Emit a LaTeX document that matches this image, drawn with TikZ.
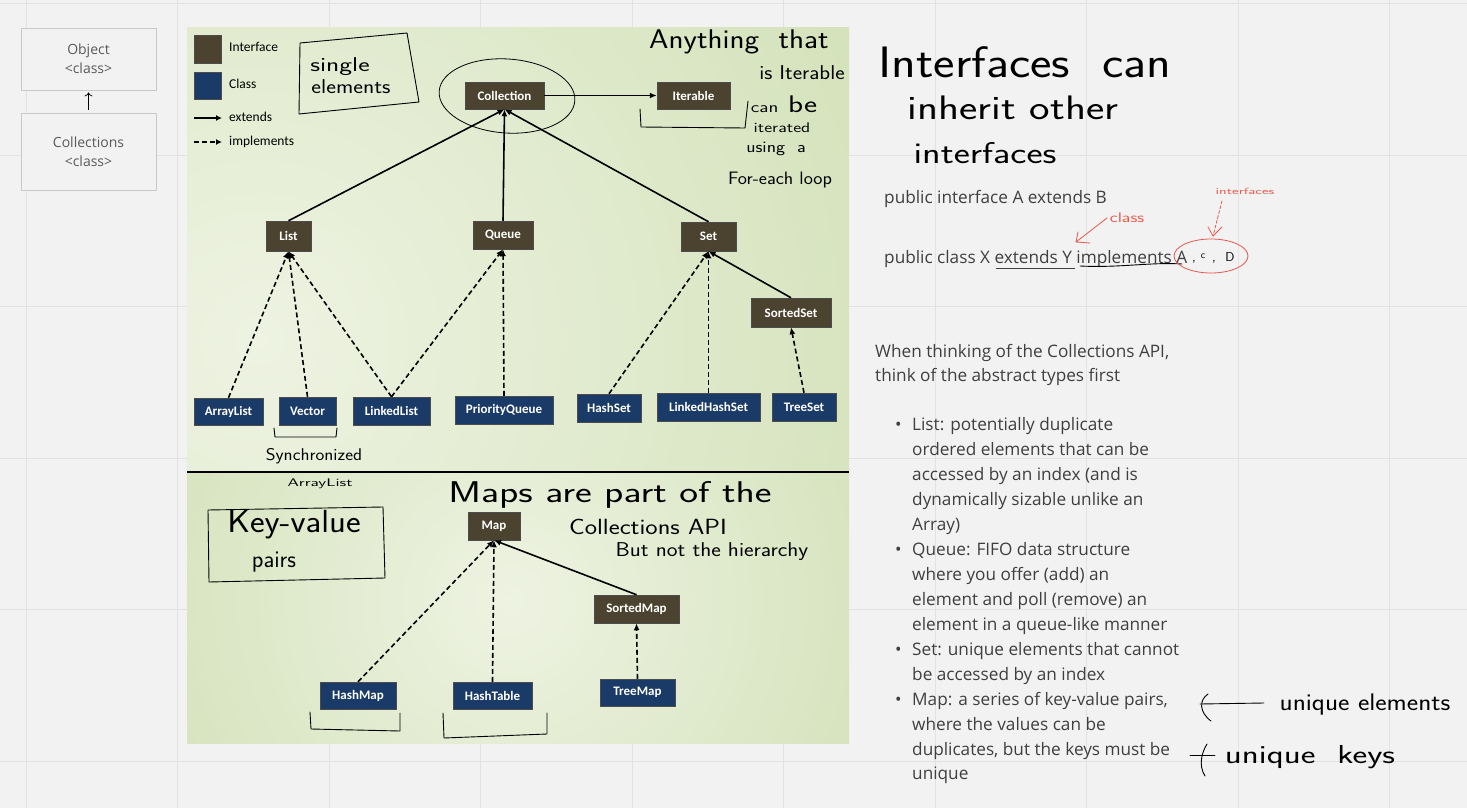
\documentclass[tikz,border=0pt]{standalone}
\usepackage{fontspec}
\usepackage{graphicx}
\usetikzlibrary{arrows.meta,shapes.geometric}
\newfontfamily\carl{Carlito}
\newfontfamily\segoe{Open Sans}
\newcommand\hw[3]{\scalebox{#2}[1]{\sffamily\fontsize{#1}{#1}\selectfont #3}}
\definecolor{bg}{HTML}{F2F2F2}
\definecolor{gridc}{HTML}{E2E2E2}
\definecolor{ifcol}{HTML}{4B432F}
\definecolor{clcol}{HTML}{1A3A68}
\definecolor{lightg}{HTML}{EEF3E2}
\definecolor{greeng}{HTML}{BDD398}
\definecolor{txt}{HTML}{3F3F3F}
\definecolor{redc}{HTML}{E8574A}
\definecolor{boxc}{HTML}{C8C8C8}
\definecolor{boxt}{HTML}{5A5A5A}
\begin{document}
\begin{tikzpicture}[x=1pt,y=-1pt,
  iface/.style={fill=ifcol, draw=black!70, line width=0.5pt, text=white,
    font=\carl\bfseries\fontsize{13}{13}\selectfont, inner sep=0pt},
  klass/.style={iface, fill=clcol},
  ext/.style={line width=1.6pt, black, -{Latex[length=7pt,width=6pt]}},
  impl/.style={ext, dash pattern=on 5pt off 3pt},
  hand/.style={text=black, inner sep=0pt},
  pen/.style={line width=0.9pt, black, line cap=round, line join=round},
  redpen/.style={line width=0.8pt, redc, line cap=round, line join=round},
  tx/.style={font=\segoe\fontsize{17.2}{20}\selectfont, text=txt, anchor=base west, inner sep=0pt},
  legt/.style={font=\carl\fontsize{13.5}{14}\selectfont, text=black, anchor=west, inner sep=0pt},
  oldbox/.style={draw=boxc, line width=0.8pt, fill=bg, text=boxt, align=center,
    font=\segoe\fontsize{14}{19}\selectfont, minimum width=135pt},
]
\useasboundingbox (0,0) rectangle (1467,808);
\fill[bg] (0,0) rectangle (1467,808);
\foreach \k in {0,...,9} {\draw[gridc, line width=0.8pt] ({26+151.5*\k},0) -- ({26+151.5*\k},808);}
\foreach \k in {0,...,5} {\draw[gridc, line width=0.8pt] (0,{3.5+151.5*\k}) -- (1467,{3.5+151.5*\k});}

% panels
\begin{scope}
\clip (187,28) rectangle (849,473);
\shade[inner color=lightg, outer color=greeng] (260,340) circle (1280pt);
\end{scope}
\begin{scope}
\clip (187,473) rectangle (849,743);
\shade[inner color=lightg, outer color=greeng] (510,600) circle (760pt);
\end{scope}
\draw[line width=2.5pt, black] (187,472) -- (849,472);

% Object / Collections
\node[oldbox, minimum height=62pt] (obj) at (88.5,59) {Object\\<class>};
\node[oldbox, minimum height=77pt] (colls) at (88.5,151.5) {Collections\\<class>};
\draw[line width=0.7pt, black, -{To[length=4pt,width=8pt]}, shorten <=3pt, shorten >=2pt] (colls.north) -- (obj.south);

% legend
\node[iface, minimum width=27pt, minimum height=28pt] (lgi) at (207.5,49) {};
\node[klass, minimum width=27pt, minimum height=27pt] (lgc) at (207.5,85.5) {};
\node[legt] (lgit) at (229,47) {Interface};
\node[legt] (lgct) at (229,84) {Class};
\coordinate (le1) at (194,118); \coordinate (le2) at (222,118);
\coordinate (li1) at (194,142); \coordinate (li2) at (222,142);
\draw[ext, line width=1.3pt, -{Latex[length=6pt,width=6pt]}] (le1) -- (le2);
\draw[impl, line width=1.3pt, -{Latex[length=6pt,width=6pt]}] (li1) -- (li2);
\node[legt] (lget) at (229,117) {extends};
\node[legt] (lgmt) at (229,142) {implements};

% hierarchy nodes
\node[iface, minimum width=79pt, minimum height=27pt] (coll) at (504.5,95.5) {Collection};
\node[iface, minimum width=73pt, minimum height=27pt] (iter) at (693.5,95.5) {Iterable};
\node[iface, minimum width=45pt, minimum height=30pt] (list) at (288.5,236) {List};
\node[iface, minimum width=60pt, minimum height=28pt] (queue) at (503,235) {Queue};
\node[iface, minimum width=55pt, minimum height=29pt] (set) at (708.5,236.5) {Set};
\node[iface, minimum width=80pt, minimum height=29pt] (sset) at (791,312.5) {SortedSet};
\node[klass, minimum width=69pt, minimum height=27pt] (alist) at (228.5,411.5) {ArrayList};
\node[klass, minimum width=57pt, minimum height=28pt] (vector) at (307.5,411) {Vector};
\node[klass, minimum width=77pt, minimum height=28pt] (llist) at (391.5,411) {LinkedList};
\node[klass, minimum width=98pt, minimum height=28pt] (pq) at (504,410) {PriorityQueue};
\node[klass, minimum width=64pt, minimum height=28pt] (hset) at (609,408) {HashSet};
\node[klass, minimum width=103pt, minimum height=28pt] (lhset) at (708.5,407) {LinkedHashSet};
\node[klass, minimum width=64pt, minimum height=28pt] (tset) at (804,407) {TreeSet};
\node[iface, minimum width=52pt, minimum height=28pt] (map) at (494,526) {Map};
\node[iface, minimum width=85pt, minimum height=28pt] (smap) at (636.5,609) {SortedMap};
\node[klass, minimum width=76pt, minimum height=27pt] (hmap) at (358,695.5) {HashMap};
\node[klass, minimum width=79pt, minimum height=27pt] (htab) at (492.5,695.5) {HashTable};
\node[klass, minimum width=75pt, minimum height=27pt] (tmap) at (637.5,692.5) {TreeMap};

% connectors
\draw[ext] (coll.east) -- (iter.west);
\draw[ext] (list.north) -- (coll.south);
\draw[ext] (queue.north) -- (coll.south);
\draw[ext] (set.north) -- (coll.south);
\draw[impl] (alist.north) -- (list.south);
\draw[impl] (vector.north) -- (list.south);
\draw[impl] (llist.north) -- (list.south);
\draw[impl] (llist.north) -- (queue.south);
\draw[impl] (pq.north) -- (queue.south);
\draw[impl] (hset.north) -- (set.south);
\draw[impl] (lhset.north) -- (set.south);
\draw[ext] (sset.north) -- (set.south);
\draw[impl] (tset.north) -- (sset.south);
\draw[impl] (hmap.north) -- (map.south);
\draw[impl] (htab.north) -- (map.south);
\draw[ext] (smap.north) -- (map.south);
\draw[impl] (tmap.north) -- (smap.south);

% handwritten notes in the diagram
\draw[pen] (300,43) -- (407,33) -- (419,102) -- (299,114) -- cycle;
\node[hand] (h1) at (340,67) {\hw{20}{1.36}{single}};
\node[hand] (h2) at (351,87) {\hw{20}{1.16}{elements}};
\draw[pen, line width=0.8pt, rotate around={-4:(507,96)}] (507,96) ellipse [x radius=68pt, y radius=37pt];
\draw[pen] (640,109) -- (641,127) -- (745,128) -- (748,101);
\node[hand] (h3) at (739,42) {\hw{27}{1.15}{Anything\ \ that}};
\node[hand] (h4) at (802,73) {\hw{20}{1.12}{is Iterable}};
\node[hand] (h5) at (784,104) {\hw{24}{1.3}{{\fontsize{15}{15}\selectfont can} be}};
\node[hand] (h6) at (782,128) {\hw{14}{1.3}{iterated}};
\node[hand] (h7) at (776,149) {\hw{16}{1.2}{using\ \ a}};
\node[hand] (h8) at (780,180) {\hw{18}{1.08}{For-each loop}};
\draw[pen] (274,428) -- (275,437) -- (336,437) -- (337,428);
\node[hand] (h9) at (314,456) {\hw{17}{1.1}{Synchronized}};
\node[hand] (h10) at (320,484) {\hw{11}{1.6}{ArrayList}};
\draw[pen] (208,510) -- (383,507) -- (385,578) -- (209,582) -- cycle;
\node[hand] (h11) at (294,525) {\hw{32}{1.09}{Key-value}};
\node[hand] (h12) at (274,562) {\hw{24}{1}{pairs}};
\node[hand] (h13) at (610,495) {\hw{30}{1.33}{Maps\ are\ part\ of\ the}};
\node[hand] (h14) at (648,527) {\hw{22}{1.19}{Collections API}};
\node[hand] (h15) at (712,552) {\hw{20}{1.14}{But not the hierarchy}};
\draw[pen] (310,712) -- (311,729) -- (400,731) -- (400,713);
\draw[pen] (443,713) -- (444,738) -- (547,734) -- (547,713);

% right side handwriting
\node[hand] (h16) at (1025,62) {\hw{44}{1.16}{Interfaces\ \ can}};
\node[hand] (h17) at (1013,108) {\hw{34}{1.28}{inherit\ other}};
\node[hand] (h18) at (985,153) {\hw{30}{1.28}{interfaces}};

% code lines
\node[tx] (c1) at (884,203) {public interface A extends B};
\node[tx] (c2) at (884,263) {public class X extends Y implements A};
\draw[txt, line width=0.8pt] (996,268) -- (1075,268);
\draw[pen] (1080,266) .. controls (1120,268) and (1150,262) .. (1182,264);
\node[hand] (cm1) at (1194,262) {\hw{14}{1}{,}};
\node[hand] (cc) at (1203,256) {\hw{10}{1}{c}};
\node[hand] (cm2) at (1214,262) {\hw{14}{1}{,}};
\node[hand] (cd) at (1230,257) {\hw{13}{1}{D}};
\draw[redpen] (1211,256) ellipse [x radius=37pt, y radius=17pt];
\node[hand, text=redc] (rc) at (1127,218) {\hw{14}{1.3}{class}};
\coordinate (rc1) at (1107,218); \coordinate (rc2) at (1076,242);
\draw[redpen] (rc1) -- (rc2) -- (1090,243);
\draw[redpen] (rc2) -- (1078,232);
\node[hand, text=redc] (ri) at (1245,191) {\hw{9}{1.6}{interfaces}};
\coordinate (ri1) at (1222,201); \coordinate (ri2) at (1213,236);
\draw[redpen, dash pattern=on 3pt off 2pt] (ri1) -- (ri2);
\draw[redpen] (ri2) -- (1222,227);
\draw[redpen] (ri2) -- (1208,227);

% explanation text
\node[tx] (p1) at (875,357) {When thinking of the Collections API,};
\node[tx] (p2) at (875,381) {think of the abstract types first};
\foreach \yy/\nm in {430/b1, 555/b2, 655/b3, 705/b4} {\node[tx] (\nm) at (895,\yy) {•};}
\node[tx] (l1) at (912,430) {List: potentially duplicate};
\node[tx] (l2) at (912,455) {ordered elements that can be};
\node[tx] (l3) at (912,480) {accessed by an index (and is};
\node[tx] (l4) at (912,505) {dynamically sizable unlike an};
\node[tx] (l5) at (912,530) {Array)};
\node[tx] (l6) at (912,555) {Queue: FIFO data structure};
\node[tx] (l7) at (912,580) {where you offer (add) an};
\node[tx] (l8) at (912,605) {element and poll (remove) an};
\node[tx] (l9) at (912,630) {element in a queue-like manner};
\node[tx] (l10) at (912,655) {Set: unique elements that cannot};
\node[tx] (l11) at (912,680) {be accessed by an index};
\node[tx] (l12) at (912,705) {Map: a series of key-value pairs,};
\node[tx] (l13) at (912,730) {where the values can be};
\node[tx] (l14) at (912,755) {duplicates, but the keys must be};
\node[tx] (l15) at (912,779) {unique};

% unique annotations
\node[hand] (u1) at (1365,705) {\hw{24}{1.13}{unique elements}};
\node[hand] (u2) at (1310,757) {\hw{26}{1.35}{unique\ \ keys}};
\coordinate (ua1) at (1264,703); \coordinate (ua2) at (1200,704);
\draw[pen] (ua1) -- (ua2);
\draw[pen] (1208,694) .. controls (1199,700) and (1199,712) .. (1211,721);
\coordinate (ub1) at (1215,755); \coordinate (ub2) at (1190,755);
\draw[pen] (ub1) -- (ub2);
\draw[pen] (1207,744) .. controls (1202,752) and (1198,765) .. (1205,776);
\end{tikzpicture}
\end{document}
